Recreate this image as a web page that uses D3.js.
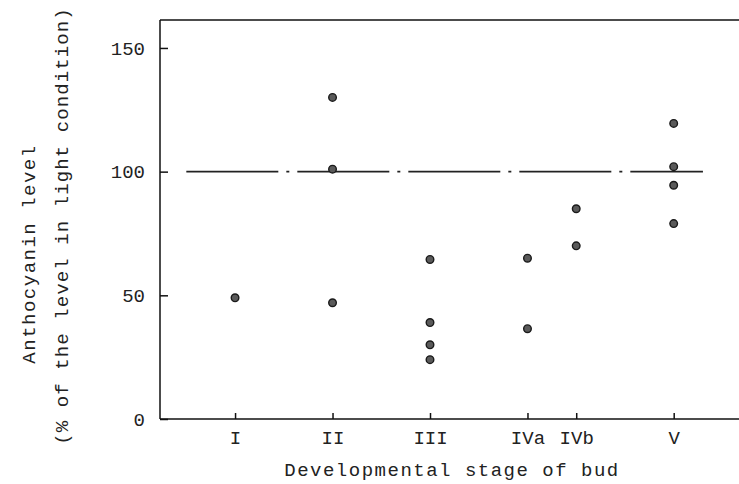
<!DOCTYPE html>
<meta charset="utf-8">
<style>
body { margin: 0; background: #fff; }
svg { display: block; }
text { font-family: "Liberation Mono", "DejaVu Sans Mono", monospace; fill: #222; }
.axis path, .axis line { stroke: #111; stroke-width: 1.5px; }
.axis text { font-size: 19px; }
.ref { stroke: #222; stroke-width: 1.6px; stroke-dasharray: 92,8,3,8; fill: none; }
.dot { fill: #5a5a5a; stroke: #1a1a1a; stroke-width: 1.4px; }
</style>
<script src="https://d3js.org/d3.v7.min.js"></script>
<body>
<svg></svg>
<script>

var width = 739,
    height = 484;

// stages along the x axis; IVb sits half way between IVa and V
var stages = ["I", "II", "III", "IVa", "IVb", "V"];
var stagePos = [1, 2, 3, 4, 4.5, 5.5];

// anthocyanin level (% of light condition), one list per stage
var levels = [
  [49],
  [130, 101, 47],
  [64.5, 39, 30, 24],
  [65, 36.5],
  [85, 70],
  [119.5, 102, 94.5, 79]
];

var yTicks = [0, 50, 100, 150];
var refLevel = 100;
var refExtent = [0.5, 5.8];

var svg = d3.select("svg")
    .attr("width", width)
    .attr("height", height);

var x = d3.scaleLinear().domain([0.23, 6.17]).range([160, 739]);
var y = d3.scaleLinear().domain([0, 161.3]).range([419, 20]);

// top border line
svg.append("line")
    .attr("x1", x.range()[0]).attr("x2", x.range()[1])
    .attr("y1", y.range()[1]).attr("y2", y.range()[1])
    .attr("stroke", "#111").attr("stroke-width", 1.5);

var yAxis = svg.append("g")
    .attr("class", "axis")
    .attr("transform", "translate(" + x.range()[0] + ",0)")
    .call(d3.axisLeft(y).tickValues(yTicks).tickSizeInner(-8).tickSizeOuter(0).tickPadding(15));
yAxis.select(".domain").attr("d", "M0," + y.range()[0] + "V" + y.range()[1]);

var xAxis = svg.append("g")
    .attr("class", "axis")
    .attr("transform", "translate(0," + y.range()[0] + ")")
    .call(d3.axisBottom(x)
      .tickValues(stagePos)
      .tickFormat(function(d, i) { return stages[i]; })
      .tickSizeInner(-6).tickSizeOuter(0).tickPadding(12));
xAxis.select(".domain").attr("d", "M" + x.range()[0] + ",0H" + x.range()[1]);

// dash-dot line at 100 %
svg.append("line")
    .attr("class", "ref")
    .attr("x1", x(refExtent[0])).attr("x2", x(refExtent[1]))
    .attr("y1", y(refLevel)).attr("y2", y(refLevel));

var points = [];
stages.forEach(function(s, i) {
  levels[i].forEach(function(v) { points.push({ pos: stagePos[i], value: v }); });
});

svg.append("g")
  .selectAll("circle")
  .data(points)
  .enter().append("circle")
    .attr("class", "dot")
    .attr("cx", function(d) { return x(d.pos); })
    .attr("cy", function(d) { return y(d.value); })
    .attr("r", 3.8);

// axis titles
svg.append("text")
    .attr("x", 452).attr("y", 476)
    .attr("text-anchor", "middle")
    .style("font-size", "19px").style("letter-spacing", "1.5px")
    .text("Developmental stage of bud");

svg.append("text")
    .attr("transform", "translate(35,254) rotate(-90)")
    .attr("text-anchor", "middle")
    .style("font-size", "19px").style("letter-spacing", "1.5px")
    .text("Anthocyanin level");

svg.append("text")
    .attr("transform", "translate(68,226) rotate(-90)")
    .attr("text-anchor", "middle")
    .style("font-size", "19px").style("letter-spacing", "1.1px")
    .text("(% of the level in light condition)");

</script>
</body>
